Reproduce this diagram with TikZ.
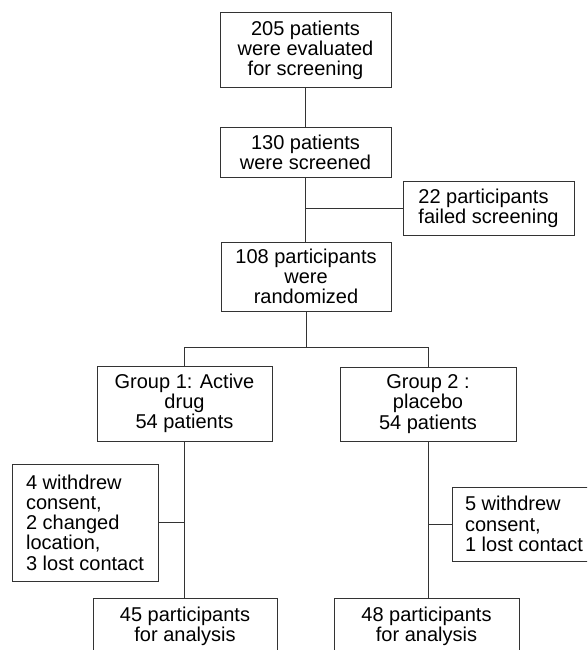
\documentclass[tikz,border=0pt]{standalone}
\usepackage{fontspec}
\setmainfont{Liberation Sans}
\begin{document}
\begin{tikzpicture}[x=1pt,y=-1pt,
  box/.style={draw=black!80, line width=1pt, inner sep=0pt, align=center,
    text=black, font=\fontsize{20}{20.3}\selectfont},
  lbox/.style={box, align=left},
  ln/.style={draw=black!80, line width=1pt}]
\useasboundingbox (0,0) rectangle (587,650);
\clip (0,0) rectangle (587,650);
\node[box, minimum width=171pt, minimum height=75pt] (b205) at (305.5,50.5) {205 patients\\were evaluated\\for screening};
\node[box, minimum width=171pt, minimum height=49pt] (b130) at (305.5,152.5) {130 patients\\were screened};
\node[lbox, minimum width=171pt, minimum height=54pt] (b22) at (488.5,208) {22 participants\\failed screening};
\node[box, minimum width=170pt, minimum height=69pt] (b108) at (306,276.5) {108 participants\\were\\randomized};
\node[box, minimum width=175pt, minimum height=75pt] (g1) at (184.5,403.5) {Group 1: Active\\drug\\54 patients};
\node[box, minimum width=176pt, minimum height=74pt] (g2) at (428,404) {Group 2 :\\placebo\\54 patients};
\node[lbox, minimum width=146pt, minimum height=117pt] (w1) at (85,522.5) {4 withdrew\\consent,\\2 changed\\location,\\3 lost contact};
\node[lbox, minimum width=144pt, minimum height=74pt] (w2) at (524,524) {5 withdrew\\consent,\\1 lost contact};
\node[box, minimum width=184pt, minimum height=56pt] (a1) at (185,626) {45 participants\\for analysis};
\node[box, minimum width=185pt, minimum height=56pt] (a2) at (426.5,626) {48 participants\\for analysis};
\coordinate (split) at (306,347);
\draw[ln] (b205.south) -- (b205.south |- b130.north);
\draw[ln] (b130.south) -- (b130.south |- b108.north);
\draw[ln] (b130.south |- b22.west) -- (b22.west);
\draw[ln] (b108.south) -- (split);
\draw[ln] (g1.north) -- (g1.north |- split) -- (g2.north |- split) -- (g2.north);
\draw[ln] (g1.south) -- (g1.south |- a1.north);
\draw[ln] (w1.east) -- (w1.east -| g1.south);
\draw[ln] (g2.south) -- (g2.south |- a2.north);
\draw[ln] (w2.west) -- (w2.west -| g2.south);
\end{tikzpicture}
\end{document}
